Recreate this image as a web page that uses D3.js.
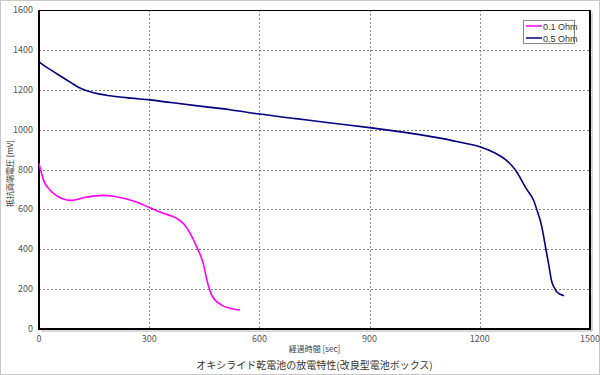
<!DOCTYPE html>
<html>
<head>
<meta charset="utf-8">
<script src="https://cdn.jsdelivr.net/npm/d3@7"></script>
<style>
  body { margin: 0; background: #fff; }
  svg { display: block; font-family: "Noto Sans CJK JP", "DejaVu Sans", sans-serif; }
</style>
</head>
<body>
<div id="chart"></div>
<script>
// discharge curves: [seconds, mV]
const ohm01 = [
  [0, 830], [14, 739], [30, 697], [62, 655], [89, 645], [121, 658], [175, 670],
  [220, 660], [257, 642], [302, 608], [338, 580], [375, 555], [395, 525],
  [429, 413], [447, 329], [457, 246], [470, 170], [497, 120], [520, 104], [547, 95]
];
const ohm05 = [
  [0, 1340], [15, 1320], [30, 1302], [57, 1270], [85, 1238], [110, 1210],
  [135, 1192], [165, 1178], [193, 1170], [250, 1158], [302, 1149], [350, 1138],
  [438, 1118], [520, 1100], [600, 1078], [700, 1055], [800, 1032], [900, 1010],
  [1000, 985], [1100, 955], [1150, 935], [1200, 914], [1240, 884], [1270, 850],
  [1296, 800], [1328, 700], [1346, 647], [1355, 600], [1368, 520], [1380, 400],
  [1387, 329], [1396, 237], [1405, 200], [1409, 187], [1429, 167]
];
const xTicks = [0, 300, 600, 900, 1200, 1500];
const yTicks = [0, 200, 400, 600, 800, 1000, 1200, 1400, 1600];
const seriesNames = ["0.1 Ohm", "0.5 Ohm"];
const seriesColors = ["#ff00ff", "#000080"];

const width = 600, height = 375;
const margin = { top: 10, left: 39 };
const plotW = 551, plotH = 319;

const svg = d3.select("#chart").append("svg")
    .attr("width", width)
    .attr("height", height);

// outer frame
svg.append("rect")
    .attr("x", 0.5).attr("y", 0.5)
    .attr("width", width - 1).attr("height", height - 1)
    .attr("fill", "#fff")
    .attr("stroke", "#c8c8c8");

const g = svg.append("g")
    .attr("transform", `translate(${margin.left},${margin.top})`);

const x = d3.scaleLinear().domain([0, 1500]).range([0, plotW]);
const y = d3.scaleLinear().domain([0, 1600]).range([plotH, 0]);

// grid
g.selectAll(".hgrid").data(yTicks.slice(1, -1)).join("line")
    .attr("x1", 0).attr("x2", x(1500))
    .attr("y1", d => Math.round(y(d)) + 0.5).attr("y2", d => Math.round(y(d)) + 0.5)
    .attr("stroke", "#808080").attr("stroke-dasharray", "2,2");
g.selectAll(".vgrid").data(xTicks.slice(1, -1)).join("line")
    .attr("y1", 0).attr("y2", y(0))
    .attr("x1", d => Math.round(x(d)) + 0.5).attr("x2", d => Math.round(x(d)) + 0.5)
    .attr("stroke", "#909090").attr("stroke-dasharray", "2,2");

// plot border + shadow
g.append("line").attr("x1", x(1500) + 2).attr("x2", x(1500) + 2)
    .attr("y1", 2).attr("y2", y(0) + 2).attr("stroke", "#b0b0b0");
g.append("line").attr("x1", 2).attr("x2", x(1500) + 2)
    .attr("y1", y(0) + 2).attr("y2", y(0) + 2).attr("stroke", "#b0b0b0");
g.append("rect")
    .attr("x", 0.5).attr("y", 0.5)
    .attr("width", x(1500)).attr("height", y(0))
    .attr("fill", "none").attr("stroke", "#000");
g.append("line").attr("x1", x(1500)).attr("x2", x(1500))
    .attr("y1", 0).attr("y2", y(0)).attr("stroke", "#000").attr("stroke-width", 2);
g.append("line").attr("x1", 0).attr("x2", 0)
    .attr("y1", 0).attr("y2", y(0) + 1).attr("stroke", "#000").attr("stroke-width", 2);
g.append("line").attr("x1", -1).attr("x2", x(1500) + 1)
    .attr("y1", y(0)).attr("y2", y(0)).attr("stroke", "#000").attr("stroke-width", 2);

// tick labels
g.selectAll(".ylab").data(yTicks).join("text")
    .attr("x", -6).attr("y", d => y(d) + 3)
    .attr("text-anchor", "end")
    .attr("font-size", 9).attr("fill", "#555")
    .text(d => d);
g.selectAll(".xlab").data(xTicks).join("text")
    .attr("x", d => x(d)).attr("y", y(0) + 13)
    .attr("text-anchor", "middle")
    .attr("font-size", 9).attr("fill", "#555")
    .text(d => d);

// lines
const line = d3.line()
    .x(d => x(d[0]))
    .y(d => y(d[1]))
    .curve(d3.curveMonotoneX);

[ohm01, ohm05].forEach((s, i) => {
    g.append("path")
        .datum(s)
        .attr("fill", "none")
        .attr("stroke", seriesColors[i])
        .attr("stroke-width", 1.6)
        .attr("d", line);
});

// legend
const lg = svg.append("g").attr("transform", "translate(523,20)");
lg.append("rect")
    .attr("x", 0.5).attr("y", 0.5).attr("width", 51).attr("height", 23)
    .attr("fill", "#fff").attr("stroke", "#888");
seriesNames.forEach((n, i) => {
    lg.append("line")
        .attr("x1", 3).attr("x2", 19)
        .attr("y1", 6 + i * 12).attr("y2", 6 + i * 12)
        .attr("stroke", seriesColors[i]).attr("stroke-width", 1.5);
    lg.append("text")
        .attr("x", 20).attr("y", 9.5 + i * 12)
        .attr("font-size", 9).attr("fill", "#333")
        .attr("font-family", "Liberation Sans, Arial, sans-serif")
        .text(n);
});

// axis titles
svg.append("text")
    .attr("transform", `translate(13,${margin.top + plotH / 2 + 4}) rotate(-90)`)
    .attr("text-anchor", "middle")
    .attr("font-size", 8).attr("fill", "#333")
    .text("抵抗両端電圧 [mV]");
svg.append("text")
    .attr("x", margin.left + plotW / 2).attr("y", 352)
    .attr("text-anchor", "middle")
    .attr("font-size", 8).attr("fill", "#333")
    .text("経過時間 [sec]");
svg.append("text")
    .attr("x", margin.left + plotW / 2).attr("y", 369)
    .attr("text-anchor", "middle")
    .attr("font-size", 10).attr("fill", "#333")
    .text("オキシライド乾電池の放電特性(改良型電池ボックス)");
</script>
</body>
</html>
